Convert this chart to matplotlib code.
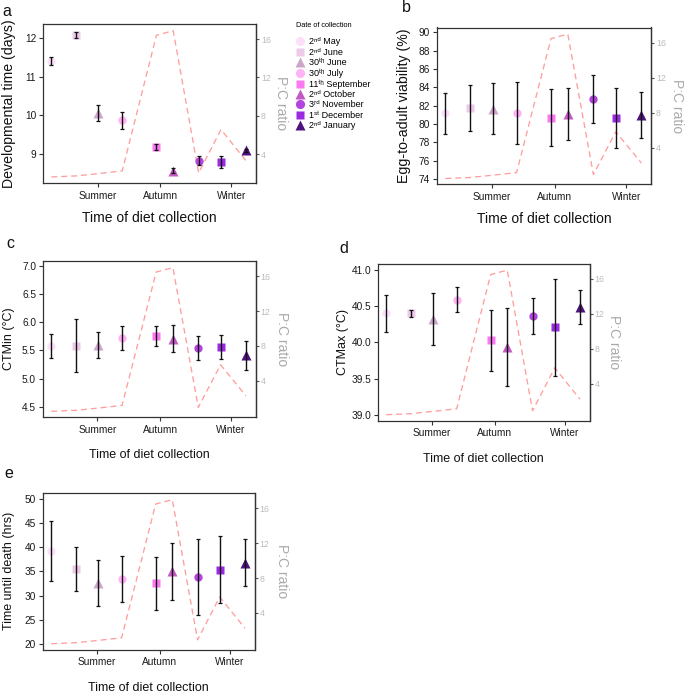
import matplotlib
matplotlib.use('Agg')
import matplotlib.pyplot as plt
import matplotlib.dates as mdates
from matplotlib.lines import Line2D
import numpy as np
from datetime import datetime

plt.rcParams['font.family'] = ['Liberation Sans', 'DejaVu Sans']

# ---------------- data ----------------
collection_dates = ['2018-05-02', '2018-06-02', '2018-06-30', '2018-07-30', '2018-09-11',
                    '2018-10-02', '2018-11-03', '2018-12-01', '2019-01-02']
legend_labels = ['2ⁿᵈ May', '2ⁿᵈ June', '30ᵗʰ June', '30ᵗʰ July', '11ᵗʰ September',
                 '2ⁿᵈ October', '3ʳᵈ November', '1ˢᵗ December', '2ⁿᵈ January']
season_labels = ['Summer', 'Autumn', 'Winter']
season_dates = ['2018-06-29', '2018-09-16', '2018-12-14']

pc_ratio = [1.63, 1.74, 1.98, 2.26, 16.4, 16.87, 2.05, 6.57, 3.27]

dev_mean = [11.41, 12.09, 10.07, 9.88, 9.18, 8.57, 8.83, 8.79, 9.10]
dev_err = [0.10, 0.07, 0.21, 0.22, 0.07, 0.07, 0.12, 0.15, 0.04]

via_mean = [81.16, 81.75, 81.67, 81.20, 80.67, 81.10, 82.72, 80.69, 80.95]
via_err = [2.20, 2.47, 2.80, 3.39, 3.11, 2.86, 2.58, 3.28, 2.50]

ctmin_mean = [5.58, 5.585, 5.60, 5.72, 5.755, 5.71, 5.545, 5.565, 5.41]
ctmin_err = [0.21, 0.465, 0.23, 0.22, 0.185, 0.245, 0.215, 0.215, 0.26]

ctmax_mean = [40.40, 40.40, 40.32, 40.59, 40.03, 39.935, 40.365, 40.21, 40.49]
ctmax_err = [0.26, 0.05, 0.36, 0.17, 0.42, 0.535, 0.245, 0.67, 0.24]

ttd_mean = [39.17, 35.45, 32.54, 33.40, 32.50, 35.03, 33.86, 35.34, 36.75]
ttd_err = [6.20, 4.60, 4.75, 4.80, 5.45, 5.90, 7.80, 6.95, 4.85]

pc_ticks = [4, 8, 12, 16]

# ---------------- styles ----------------
colors = ['#FCE0FA', '#ECCAE8', '#CCA6CA', '#FFB2F4', '#FA78F0',
          '#C25AC4', '#B443E0', '#9B2BE2', '#4E137C']
markers = ['o', 's', '^', 'o', 's', '^', 'o', 's', '^']
msizes = {'o': 6.0, 's': 5.6, '^': 6.6}

W, H = 685, 694
fig = plt.figure(figsize=(W / 100, H / 100), dpi=100)

x = mdates.date2num([datetime.strptime(d, '%Y-%m-%d') for d in collection_dates])
xs = mdates.date2num([datetime.strptime(d, '%Y-%m-%d') for d in season_dates])
xlim = (mdates.date2num(datetime(2018, 4, 21, 12)), mdates.date2num(datetime(2019, 1, 14)))
PC_LIM = (1.0, 17.57)

def rect(l, t, r, b):
    return [l / W, 1 - b / H, (r - l) / W, (b - t) / H]

panels = [
    dict(tag='a', box=(43, 24, 256, 183), mean=dev_mean, err=dev_err, ylim=(8.25, 12.37),
         yticks=[9, 10, 11, 12], fmt='{:g}', ylabel='Developmental time (days)', lfs=10.2, xfs=10,
         xl_y=218, yl_x=9, pc_x=281, tag_xy=(7, 11), sec=(1.0, 17.57)),
    dict(tag='b', box=(437, 27.5, 651, 184.5), mean=via_mean, err=via_err, ylim=(73.4, 90.52),
         yticks=list(range(74, 91, 2)), fmt='{:g}', ylabel='Egg-to-adult viability (%)', lfs=10.2, xfs=10,
         xl_y=219, yl_x=403.5, pc_x=677, tag_xy=(406, 8), sec=(-0.23, 17.76)),
    dict(tag='c', box=(43, 261, 255.5, 417.3), mean=ctmin_mean, err=ctmin_err, ylim=(4.31, 7.09),
         yticks=[4.5, 5.0, 5.5, 6.0, 6.5, 7.0], fmt='{:.1f}', ylabel='CTMin (°C)', lfs=9, xfs=9,
         xl_y=455, yl_x=9, pc_x=282.5, tag_xy=(10.5, 243), sec=(-0.23, 17.76)),
    dict(tag='d', box=(378, 263.5, 589.5, 420.7), mean=ctmax_mean, err=ctmax_err, ylim=(38.92, 41.09),
         yticks=[39.0, 39.5, 40.0, 40.5, 41.0], fmt='{:.1f}', ylabel='CTMax (°C)', lfs=9, xfs=9,
         xl_y=459, yl_x=343, pc_x=614, tag_xy=(343.5, 248), sec=(-0.23, 17.76)),
    dict(tag='e', box=(43, 493, 254.5, 649.7), mean=ttd_mean, err=ttd_err, ylim=(18.83, 51.17),
         yticks=[20, 25, 30, 35, 40, 45, 50], fmt='{:g}', ylabel='Time until death (hrs)', lfs=9, xfs=9,
         xl_y=688, yl_x=9, pc_x=281.5, tag_xy=(9, 474), sec=(-0.23, 17.76)),
]

SPINE = '#333333'
for p in panels:
    ax = fig.add_axes(rect(*p['box']))
    tx = ax.twinx()
    tx.set_ylim(*PC_LIM)
    tx.plot(x, pc_ratio, color='#FF9E9E', lw=0.95, dashes=(4.5, 3.0), zorder=1)
    tx.set_yticks([])
    for s in tx.spines.values():
        s.set_visible(False)
    lo, hi = p['sec']
    k = (hi - lo) / (PC_LIM[1] - PC_LIM[0])
    fwd = (lambda d, lo=lo, k=k: lo + (np.asarray(d) - PC_LIM[0]) * k)
    inv = (lambda v, lo=lo, k=k: PC_LIM[0] + (np.asarray(v) - lo) / k)
    sec = tx.secondary_yaxis('right', functions=(fwd, inv))
    sec.set_yticks(pc_ticks)
    sec.tick_params(axis='y', length=2.5, width=0.8, color='#555555', labelcolor='#BBBBBB',
                    labelsize=6.3, pad=1)
    sec.spines['right'].set_color(SPINE)
    sec.spines['right'].set_linewidth(0.9)

    ax.set_zorder(tx.get_zorder() + 1)
    ax.patch.set_visible(False)
    for i in range(len(x)):
        ax.plot(x[i], p['mean'][i], ls='none', marker=markers[i], ms=msizes[markers[i]],
                color=colors[i], mec='none', zorder=2)
        ax.errorbar(x[i], p['mean'][i], yerr=p['err'][i], fmt='none', ecolor='#111111',
                    elinewidth=1.0, capsize=1.7, capthick=0.9, zorder=3)
    ax.set_xlim(*xlim)
    ax.set_ylim(*p['ylim'])
    ax.set_xticks(xs)
    ax.set_xticklabels(season_labels)
    ax.set_yticks(p['yticks'])
    ax.set_yticklabels([p['fmt'].format(v) for v in p['yticks']])
    ax.tick_params(axis='both', length=3, width=0.8, color=SPINE, labelcolor='#1a1a1a')
    ax.tick_params(axis='y', labelsize=7.3, pad=2)
    ax.tick_params(axis='x', labelsize=7.3, pad=2.5)
    for s in ax.spines.values():
        s.set_color(SPINE)
        s.set_linewidth(0.9)

    l, t, r, b = p['box']
    fig.text(p['yl_x'] / W, 1 - ((t + b) / 2) / H, p['ylabel'], rotation=90, ha='center', va='center',
             fontsize=p['lfs'], color='#111111')
    fig.text(p['pc_x'] / W, 1 - ((t + b) / 2) / H, 'P:C ratio', rotation=270, ha='center', va='center',
             fontsize=10, color='#AAAAAA')
    fig.text(((l + r) / 2) / W, 1 - p['xl_y'] / H, 'Time of diet collection', ha='center', va='center',
             fontsize=p['xfs'], color='#111111')
    fig.text(p['tag_xy'][0] / W, 1 - p['tag_xy'][1] / H, p['tag'], ha='center', va='center',
             fontsize=11.5, color='#111111')

handles = [Line2D([], [], ls='none', marker=markers[i], ms=msizes[markers[i]] * 1.1,
                  color=colors[i], mec='none') for i in range(len(colors))]
leg = fig.legend(handles, legend_labels, title='Date of collection', loc='upper left',
                 bbox_to_anchor=(296 / W, 1 - 22 / H), frameon=False, fontsize=6.5,
                 title_fontsize=5.3, handlelength=0.9, handletextpad=0.5, labelspacing=0.15,
                 borderpad=0, borderaxespad=0, alignment='left')
leg._legend_box.sep = 6

fig.savefig('out.png', dpi=100)
